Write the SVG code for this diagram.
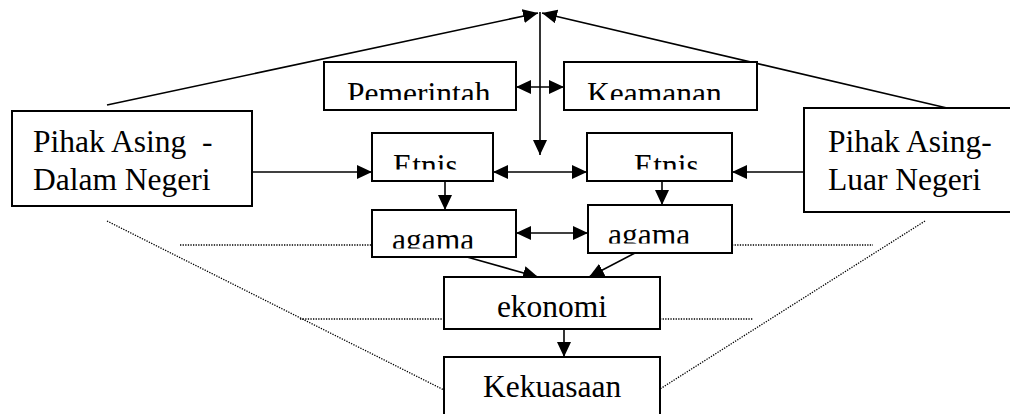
<svg xmlns="http://www.w3.org/2000/svg" width="1010" height="414" viewBox="0 0 1010 414">
<style>
.box{fill:#fff;stroke:#000;stroke-width:2}
.t{font-family:"Liberation Serif","Times New Roman",serif;font-size:31.5px;fill:#000;white-space:pre}
.ln{stroke:#000;stroke-width:1.6;fill:none}
.ar{stroke:#000;stroke-width:1.6;fill:none;marker-end:url(#ah)}
.dar{stroke:#000;stroke-width:1.6;fill:none;marker-end:url(#ah);marker-start:url(#ah)}
.dot{stroke:#000;stroke-width:1.3;fill:none;stroke-dasharray:1.3 1.3}
</style>
<defs>
<marker id="ah" markerUnits="userSpaceOnUse" markerWidth="15" markerHeight="14" refX="15" refY="7" orient="auto-start-reverse" viewBox="0 0 15 14">
<path d="M0,0 L15,7 L0,14 z" fill="#000"/>
</marker>
<clipPath id="cPem"><rect x="324" y="62" width="192" height="38"/></clipPath>
<clipPath id="cKea"><rect x="564" y="62" width="193" height="38"/></clipPath>
<clipPath id="cEt1"><rect x="372" y="133" width="121" height="36.5"/></clipPath>
<clipPath id="cEt2"><rect x="587" y="133" width="145" height="36.5"/></clipPath>
<clipPath id="cAg1"><rect x="372" y="210" width="144" height="38.5"/></clipPath>
<clipPath id="cAg2"><rect x="588" y="205" width="144" height="38.5"/></clipPath>
</defs>
<rect width="1010" height="414" fill="#fff"/>

<g id="connectors">
<line class="ar" x1="107" y1="105" x2="538" y2="13"/>
<line class="ar" x1="947" y1="108" x2="542" y2="13"/>
<line class="ar" x1="540" y1="12" x2="540" y2="155"/>
<line class="dar" x1="516" y1="87" x2="564" y2="87"/>
<line class="ar" x1="252" y1="172" x2="372" y2="172"/>
<line class="ar" x1="804" y1="172" x2="732" y2="172"/>
<line class="dar" x1="493" y1="172" x2="587" y2="172"/>
<line class="ar" x1="445" y1="181" x2="445" y2="210"/>
<line class="ar" x1="662" y1="181" x2="662" y2="205"/>
<line class="dar" x1="516" y1="233" x2="588" y2="233"/>
<line class="ar" x1="467" y1="257" x2="538" y2="277"/>
<line class="ar" x1="635" y1="253" x2="589" y2="277"/>
<line class="ar" x1="564" y1="329" x2="564" y2="357"/>
<line class="dot" x1="107" y1="221" x2="444" y2="390"/>
<line class="dot" x1="925" y1="221" x2="660" y2="389"/>
<line class="dot" x1="180" y1="245" x2="372" y2="245"/>
<line class="dot" x1="732" y1="245" x2="873" y2="245"/>
<line class="dot" x1="300" y1="319" x2="444" y2="319"/>
<line class="dot" x1="660" y1="319" x2="753" y2="319"/>
</g>

<g id="node-dalam">
<rect class="box" x="12" y="111" width="240" height="95"/>
<text class="t" x="33" y="152" xml:space="preserve">Pihak Asing  -</text>
<text class="t" x="33" y="190">Dalam Negeri</text>
</g>
<g id="node-luar">
<rect class="box" x="804" y="108" width="220" height="104"/>
<text class="t" x="828" y="152">Pihak Asing-</text>
<text class="t" x="828" y="190">Luar Negeri</text>
</g>
<g id="node-pemerintah">
<rect class="box" x="324" y="62" width="192" height="48"/>
<text class="t" x="347" y="104" clip-path="url(#cPem)">Pemerintah</text>
</g>
<g id="node-keamanan">
<rect class="box" x="564" y="62" width="193" height="48"/>
<text class="t" x="587" y="104" clip-path="url(#cKea)">Keamanan</text>
</g>
<g id="node-etnis1">
<rect class="box" x="372" y="133" width="121" height="48"/>
<text class="t" x="393" y="175.5" clip-path="url(#cEt1)">Etnis</text>
</g>
<g id="node-etnis2">
<rect class="box" x="587" y="133" width="145" height="48"/>
<text class="t" x="634" y="175.5" clip-path="url(#cEt2)">Etnis</text>
</g>
<g id="node-agama1">
<rect class="box" x="372" y="210" width="144" height="47"/>
<text class="t" x="392" y="250" clip-path="url(#cAg1)">agama</text>
</g>
<g id="node-agama2">
<rect class="box" x="588" y="205" width="144" height="48"/>
<text class="t" x="608" y="245" clip-path="url(#cAg2)">agama</text>
</g>
<g id="node-ekonomi">
<rect class="box" x="444" y="277" width="216" height="52"/>
<text class="t" x="552" y="317" text-anchor="middle">ekonomi</text>
</g>
<g id="node-kekuasaan">
<rect class="box" x="444" y="357" width="216" height="70"/>
<text class="t" x="483" y="397">Kekuasaan</text>
</g>
</svg>
